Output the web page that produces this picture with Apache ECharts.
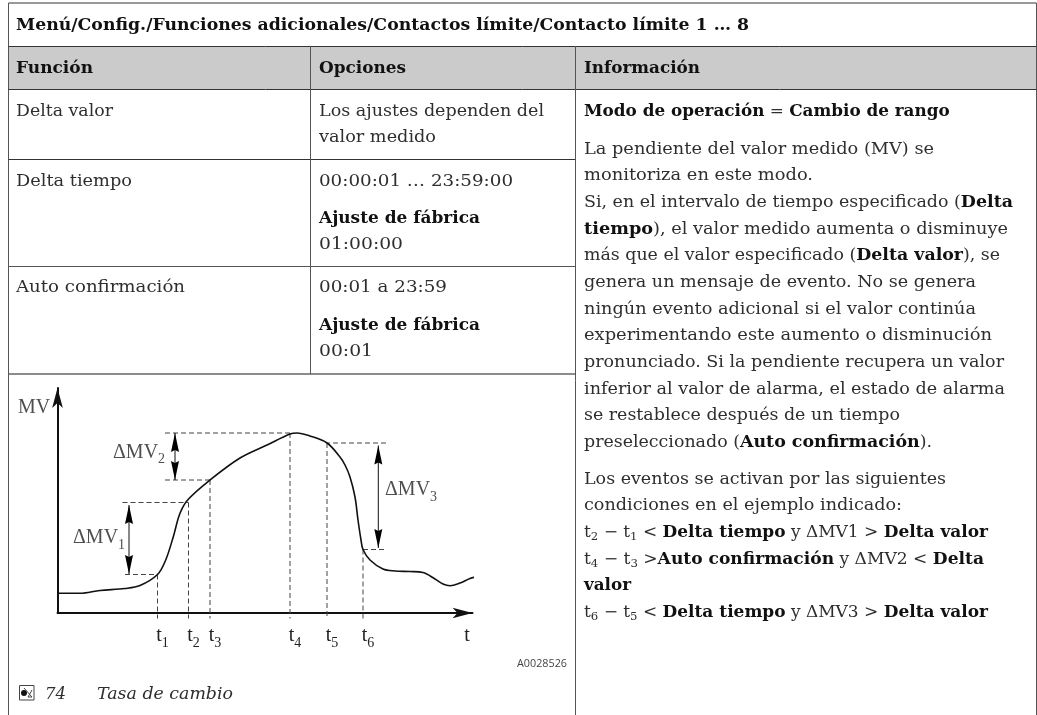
<!DOCTYPE html>
<html><head><meta charset="utf-8">
<style>html,body{margin:0;padding:0;background:#fff}#c{width:1037px;height:715px}</style>
<script src="https://cdn.jsdelivr.net/npm/echarts@6/dist/echarts.min.js"></script>
</head><body><div id="c"></div>
<script>
// ---- chart values (arbitrary units)
const curveT = [0,22.5,42.5,67.5,82.5,100,108.2,115.8,122.5,130.8,152.5,182.5,209.5,232.5,239.5,252.5,269.5,282.5,287.5,292.5,297.5,300.5,303.5,305.5,312.5,325.5,337.5,352.5,365.5,377.5,385.5,392.5,402.5,412.5,418.5];
const curveMV = [19.7,19.7,22.5,24.5,27.5,38.5,53,76.3,99.7,113.7,133,155,168,179,180,177,170,156,148,136,116,93,73,63.5,53,44,42,41.5,40.5,34,29,27.3,30,34.5,36];
const timeMarks = [100,131,152.5,232.5,269.5,305.5];
const timeMV = [38.5,110.5,133,180,170,63.5];
const levelFrom = [67.5,65,107.5,107.5,328.5,326.5];
const timeNames = ['1','2','3','4','5','6'];
const lastTimeTick = 409.5;
const deltaAt = [71.5,117.5,320.8];
const deltaLow = [39,133,65];
const deltaHigh = [108,180,167.5];
const titleText = 'Menú/Config./Funciones adicionales/Contactos límite/Contacto límite 1 … 8';
const headers = ['Función','Opciones','Información'];
const col1Text = ['Delta valor','Delta tiempo','Auto confirmación'];
const col2Text = ['Los ajustes dependen del','valor medido','00:00:01 … 23:59:00','{b|Ajuste de fábrica}','01:00:00','00:01 a 23:59','{b|Ajuste de fábrica}','00:01'];
const col3Text = [
 '{b|Modo de operación} = {b|Cambio de rango}',
 'La pendiente del valor medido (MV) se',
 'monitoriza en este modo.',
 'Si, en el intervalo de tiempo especificado ({b|Delta}',
 '{b|tiempo}), el valor medido aumenta o disminuye',
 'más que el valor especificado ({b|Delta valor}), se',
 'genera un mensaje de evento. No se genera',
 'ningún evento adicional si el valor continúa',
 'experimentando este aumento o disminución',
 'pronunciado. Si la pendiente recupera un valor',
 'inferior al valor de alarma, el estado de alarma',
 'se restablece después de un tiempo',
 'preseleccionado ({b|Auto confirmación}).',
 'Los eventos se activan por las siguientes',
 'condiciones en el ejemplo indicado:',
 't{s|2} − t{s|1} < {b|Delta tiempo} y ΔMV1 > {b|Delta valor}',
 't{s|4} − t{s|3} >{b|Auto confirmación} y ΔMV2 < {b|Delta}',
 '{b|valor}',
 't{s|6} − t{s|5} < {b|Delta tiempo} y ΔMV3 > {b|Delta valor}'];

// ---- layout
const col1Y=[112,182,288], col1End=[113,132,185];
const col2Y=[111.5,138,182,218.5,245,287.5,326,352], col2End=[544,436,513,480,403,447,480,373];
const col3Y=[112,149.5,176,203,229.5,256,283,309.5,336,363,389.5,416,443,479.5,506,533,559.5,586,613];
const col3End=[949.7,934,813,1013,1008,1000,976,976,992,1004,1005,900,932,946,902,988,984,631,988];
const F='"DejaVu Serif"', D='"Liberation Serif"', INK='#2e2e2e', RULE='#555';
const SIZE=16, BOLD='bold '+SIZE+'px '+F, REG=SIZE+'px '+F, SUB='11px '+F;
const rich={
 b:{font:BOLD,fill:'#111',lineHeight:20,verticalAlign:'middle'},
 s:{font:SUB,fill:INK,lineHeight:10,verticalAlign:'bottom'}};
const mctx=document.createElement('canvas').getContext('2d');
function natural(t,font){
 let w=0;
 t.split(/(\{[bs]\|[^}]*\})/).forEach(p=>{
  const m=p.match(/^\{([bs])\|([^}]*)\}$/);
  mctx.font=m?(m[1]==='b'?BOLD:SUB):font;
  w+=mctx.measureText(m?m[2]:p).width;
 });
 return w;
}
function txt(x,y,t,right,extra){
 const font=(extra&&extra.font)||REG;
 return {type:'text',z:10,silent:true,x:x,y:y,scaleX:(right-x)/natural(t,font),
  style:Object.assign({text:t,font:font,fill:INK,rich:rich,verticalAlign:'middle',align:'left'},extra||{})};
}
function line(x1,y1,x2,y2,c,w){return {type:'line',z:5,silent:true,shape:{x1,y1,x2,y2},style:{stroke:c||RULE,lineWidth:w||1}};}
const X0=8.5,X1=310.5,X2=575.5,X3=1036.5;
const g=[
 {type:'rect',z:1,silent:true,shape:{x:X0,y:46,width:X3-X0,height:43},style:{fill:'#cbcbcb'}},
 line(X0,3,X3,3,'#777',1.5),line(X0,3,X0,715),line(X3,3,X3,715),
 line(X0,46.5,X3,46.5,'#333'),line(X0,89.5,X3,89.5,'#333'),
 line(X0,159.5,X2,159.5,'#333'),line(X0,266.5,X2,266.5,'#555'),line(X0,374,X2,374,'#666',1.5),
 line(X1,46,X1,374),line(X2,46,X2,715),
 txt(16,26,'{b|'+titleText+'}',749),
 txt(16,69,'{b|'+headers[0]+'}',93),txt(319,69,'{b|'+headers[1]+'}',406),txt(584,69,'{b|'+headers[2]+'}',700),
 txt(517,664,'A0028526',567,{font:'10px "Open Sans"',fill:'#444'}),
 txt(45,695,'74',66,{font:'italic 16px '+F}),
 txt(97,695,'Tasa de cambio',233,{font:'italic 16px '+F}),
 {type:'rect',z:10,silent:true,shape:{x:19.5,y:685.5,width:14.5,height:14.5},style:{fill:'#fff',stroke:'#444',lineWidth:1}},
 {type:'circle',z:11,silent:true,shape:{cx:24,cy:693,r:3},style:{fill:'#111'}},
 {type:'polyline',z:11,silent:true,shape:{points:[[24,688],[32,697],[28,697],[32,690]]},style:{stroke:'#444',fill:'none',lineWidth:1}}
];
col1Text.forEach((t,i)=>g.push(txt(16,col1Y[i],t,col1End[i])));
col2Text.forEach((t,i)=>g.push(txt(319,col2Y[i],t,col2End[i])));
col3Text.forEach((t,i)=>g.push(txt(584,col3Y[i],t,col3End[i])));

// ---- diagram series
const guide=(pts)=>({type:'line',data:pts,symbol:'none',clip:false,silent:true,z:3,lineStyle:{color:'#444',width:1,type:[5,3]}});
const series=[];
timeMarks.forEach((t,i)=>{
 series.push(guide([[t,timeMV[i]],[t,-5.5]]));
 series.push(guide([[levelFrom[i],timeMV[i]],[t,timeMV[i]]]));
});
series.push({type:'line',data:curveT.map((t,i)=>[t,curveMV[i]]),symbol:'none',smooth:0.35,clip:false,silent:true,z:4,lineStyle:{color:'#111',width:1.6}});
deltaAt.forEach((x,i)=>series.push({type:'line',data:[[x,deltaLow[i]],[x,deltaHigh[i]]],symbol:'none',clip:false,silent:true,z:4,lineStyle:{color:'#111',width:1}}));
series.push({type:'scatter',silent:true,clip:false,z:5,symbol:'path://M4,0 L8,20 L4,18 L0,20 Z',symbolSize:[8,19],symbolOffset:[0,9.5],itemStyle:{color:'#000',opacity:1},data:deltaAt.map((x,i)=>[x,deltaHigh[i]])});
series.push({type:'scatter',silent:true,clip:false,z:5,symbol:'path://M0,0 L4,2 L8,0 L4,20 Z',symbolSize:[8,19],symbolOffset:[0,-9.5],itemStyle:{color:'#000',opacity:1},data:deltaAt.map((x,i)=>[x,deltaLow[i]])});
const dRich={
 m:{fontFamily:D,fontSize:20,color:'#222',lineHeight:28,verticalAlign:'middle'},
 s:{fontFamily:D,fontSize:14,color:'#222',lineHeight:14,verticalAlign:'bottom'},
 p:{width:10,lineHeight:28}};
const labelled=[[15.5,75,'{m|ΔMV}{s|1}'],[55.5,160.5,'{m|ΔMV}{s|2}'],[327.5,123,'{m|ΔMV}{s|3}'],[-39.5,205,'{m|MV}']];
series.push({type:'scatter',silent:true,clip:false,z:6,symbolSize:0,data:labelled.map(d=>({value:[d[0],d[1]],label:{show:true,position:'right',distance:0,formatter:d[2],rich:dRich}}))});

const chart=echarts.init(document.getElementById('c'),null,{renderer:'canvas'});
chart.setOption({
 animation:false,
 grid:{left:57.5,top:388,width:415,height:225},
 xAxis:{type:'value',min:0,max:415,splitLine:{show:false},axisTick:{show:false},
  axisLine:{onZero:false,lineStyle:{color:'#111',width:2},symbol:['none','arrow'],symbolSize:[8,20]},
  axisLabel:{customValues:timeMarks.concat([lastTimeTick]),margin:9,hideOverlap:false,
   formatter:v=>{const i=timeMarks.indexOf(v);return i<0?'{m|t}':'{p| }{m|t}{s|'+timeNames[i]+'}';},rich:dRich}},
 yAxis:{type:'value',min:0,max:225,splitLine:{show:false},axisTick:{show:false},axisLabel:{show:false},
  axisLine:{onZero:false,lineStyle:{color:'#111',width:2},symbol:['none','arrow'],symbolSize:[8,20]}},
 series:series,
 graphic:g
});
</script></body></html>
